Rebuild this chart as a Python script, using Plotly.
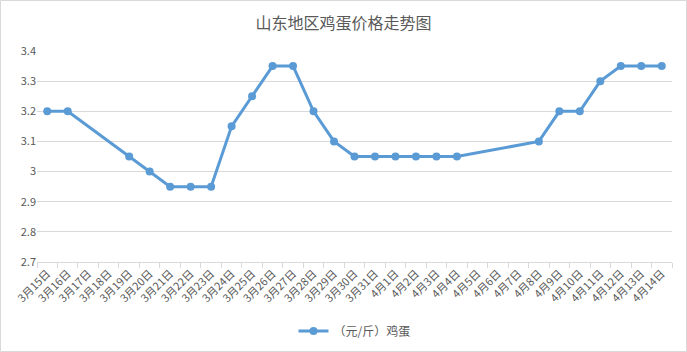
import plotly.graph_objects as go

dates = ["3月15日","3月16日","3月17日","3月18日","3月19日","3月20日","3月21日","3月22日",
         "3月23日","3月24日","3月25日","3月26日","3月27日","3月28日","3月29日","3月30日",
         "3月31日","4月1日","4月2日","4月3日","4月4日","4月5日","4月6日","4月7日",
         "4月8日","4月9日","4月10日","4月11日","4月12日","4月13日","4月14日"]
prices = [3.2, 3.2, None, None, 3.05, 3.0, 2.95, 2.95,
          2.95, 3.15, 3.25, 3.35, 3.35, 3.2, 3.1, 3.05,
          3.05, 3.05, 3.05, 3.05, 3.05, None, None, None,
          3.1, 3.2, 3.2, 3.3, 3.35, 3.35, 3.35]
y_ticks = [2.7, 2.8, 2.9, 3.0, 3.1, 3.2, 3.3, 3.4]
y_tick_text = ["2.7", "2.8", "2.9", "3", "3.1", "3.2", "3.3", "3.4"]

font_family = "Noto Sans CJK SC, Noto Sans, sans-serif"
text_color = "#595959"

fig = go.Figure()
fig.add_trace(go.Scatter(
    x=dates, y=prices, mode="lines+markers", name="（元/斤）鸡蛋",
    connectgaps=True,
    line=dict(color="#5B9BD5", width=3),
    marker=dict(color="#5B9BD5", size=8),
))

W, H = 687, 352
ml, mr, mt, mb = 37, 15, 51, 90
pw, ph = W - ml - mr, H - mt - mb

fig.update_layout(
    width=W, height=H,
    margin=dict(l=ml, r=mr, t=mt, b=mb, autoexpand=False),
    paper_bgcolor="white", plot_bgcolor="white",
    font=dict(family=font_family, color=text_color, size=11),
    title=dict(text="山东地区鸡蛋价格走势图", x=0.5, xanchor="center",
               y=1 - 23 / H, yanchor="middle",
               font=dict(size=16, color=text_color, family=font_family)),
    showlegend=True,
    legend=dict(orientation="h", x=0.5, xanchor="center", y=-69 / ph, yanchor="middle",
                font=dict(size=12, color=text_color)),
    xaxis=dict(type="category", tickangle=-45, showgrid=False, automargin=False,
               range=[-0.5, len(dates) - 0.5],
               ticks="outside", tickson="boundaries", ticklen=5, tickcolor="#d9d9d9",
               showline=True, linecolor="#d9d9d9", linewidth=1,
               tickfont=dict(size=11, color=text_color)),
    yaxis=dict(range=[2.7, 3.4], tickvals=y_ticks, ticktext=y_tick_text, automargin=False,
               showgrid=True, gridcolor="#d9d9d9", gridwidth=1, zeroline=False,
               ticks="", tickfont=dict(size=11, color=text_color)),
    shapes=[dict(type="rect", xref="paper", yref="paper",
                 x0=-(ml - 0.5) / pw, x1=1 + (mr - 0.5) / pw,
                 y0=-(mb - 0.5) / ph, y1=1 + (mt - 0.5) / ph,
                 line=dict(color="#d9d9d9", width=1), layer="below")],
)

fig.write_html("out.html")
